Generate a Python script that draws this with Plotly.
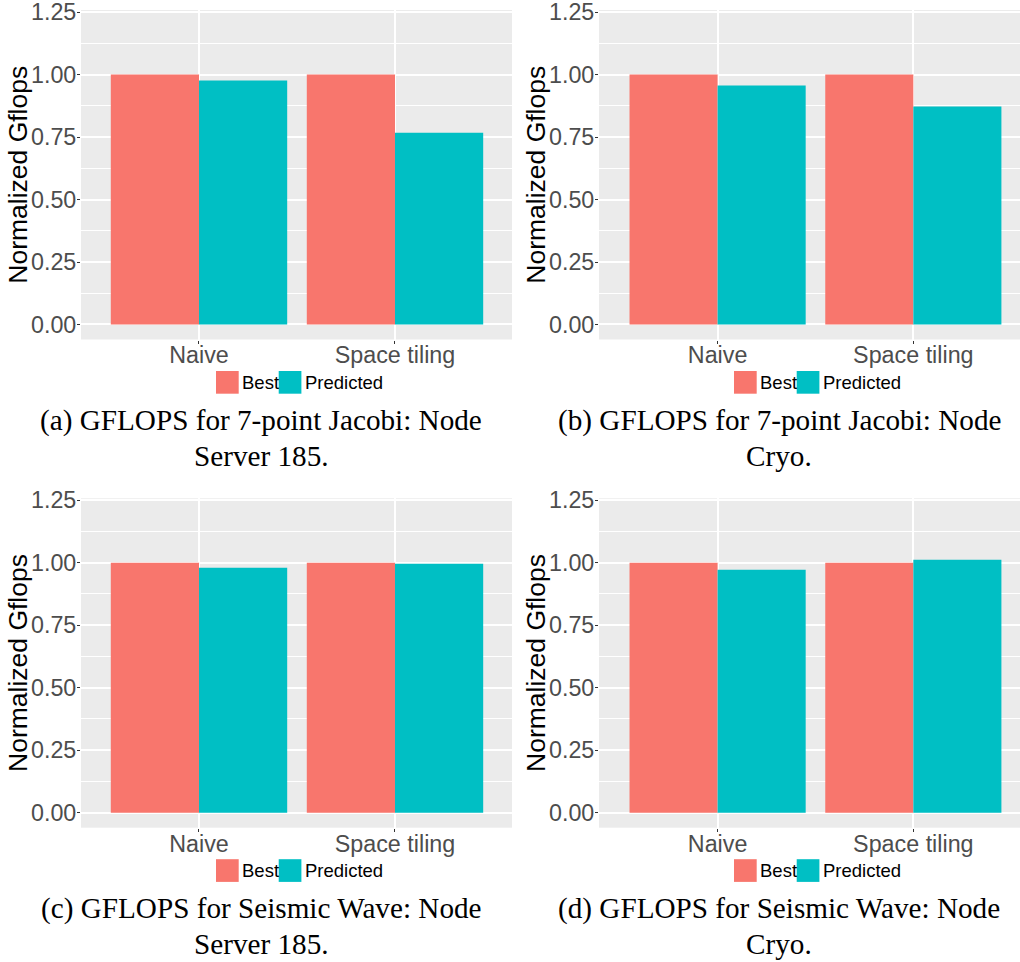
import plotly.graph_objects as go

categories = ["Naive", "Space tiling"]
series_names = ["Best", "Predicted"]
best_a = [1.0, 1.0]
pred_a = [0.976, 0.767]
best_b = [1.0, 1.0]
pred_b = [0.956, 0.872]
best_c = [1.0, 1.0]
pred_c = [0.980, 0.996]
best_d = [1.0, 1.0]
pred_d = [0.972, 1.012]
y_ticks = [0, 0.25, 0.5, 0.75, 1.0, 1.25]
y_title = "Normalized Gflops"
captions = [
    ["(a) GFLOPS for 7-point Jacobi: Node", "Server 185."],
    ["(b) GFLOPS for 7-point Jacobi: Node", "Cryo."],
    ["(c) GFLOPS for Seismic Wave: Node", "Server 185."],
    ["(d) GFLOPS for Seismic Wave: Node", "Cryo."],
]

W, H = 1020, 962
RED, CYAN = "#F8766D", "#00BFC4"
PANEL = "#EBEBEB"
SANS = "Liberation Sans, Arial, sans-serif"
SERIF = "Liberation Serif, Times New Roman, serif"

def px(x):
    return x / W

def py(y):
    return 1 - y / H

# panel geometry (pixels)
panels = [
    dict(x0=81, x1=512, xr=[-0.602, 1.597], yt=10, yb=339.5, yr=[-0.0601, 1.2585]),
    dict(x0=599, x1=1020, xr=[-0.606, 1.545], yt=10, yb=339.5, yr=[-0.0601, 1.2585]),
    dict(x0=81, x1=512, xr=[-0.602, 1.597], yt=498.3, yb=827.7, yr=[-0.0601, 1.2575]),
    dict(x0=599, x1=1020, xr=[-0.606, 1.545], yt=498.3, yb=827.7, yr=[-0.0601, 1.2575]),
]
data = [(best_a, pred_a), (best_b, pred_b), (best_c, pred_c), (best_d, pred_d)]

fig = go.Figure()
layout = dict(
    template="none",
    width=W, height=H, margin=dict(l=0, r=0, t=0, b=0, pad=0, autoexpand=False),
    paper_bgcolor="white", plot_bgcolor=PANEL,
    barmode="group", bargap=0.1, bargroupgap=0,
    showlegend=False, font=dict(family=SANS),
)
annotations = []
shapes = []

for i, (p, (best, pred)) in enumerate(zip(panels, data)):
    n = "" if i == 0 else str(i + 1)
    xa, ya = "x" + n, "y" + n
    fig.add_trace(go.Bar(x=categories, y=best, name=series_names[0], marker_color=RED,
                         marker_line_width=0, xaxis=xa, yaxis=ya))
    fig.add_trace(go.Bar(x=categories, y=pred, name=series_names[1], marker_color=CYAN,
                         marker_line_width=0, xaxis=xa, yaxis=ya))
    layout["xaxis" + n] = dict(
        domain=[px(p["x0"]), px(p["x1"])], range=p["xr"], anchor=ya, automargin=False,
        type="category", showgrid=True, gridcolor="white", gridwidth=1.5,
        zeroline=False, showline=False, ticks="outside", ticklen=3, tickwidth=1,
        tickcolor="#333333", tickfont=dict(size=23.3, color="#4D4D4D", family=SANS),
        ticklabelstandoff=-8, ticklabeloverflow="allow",
    )
    layout["yaxis" + n] = dict(
        domain=[py(p["yb"]), py(p["yt"])], range=p["yr"], anchor=xa, automargin=False,
        tickvals=y_ticks, tickformat=".2f", showgrid=True, gridcolor="white", gridwidth=1.6,
        zeroline=False, showline=False, ticks="outside", ticklen=3, tickwidth=1,
        tickcolor="#333333", tickfont=dict(size=23.3, color="#4D4D4D", family=SANS),
        ticklabelstandoff=-4, ticklabeloverflow="allow",
        minor=dict(dtick=0.125, tick0=0, showgrid=True, gridcolor="white", gridwidth=0.8, ticks=""),
    )
    annotations.append(dict(
        text=y_title, textangle=-90, x=px(p["x0"] - 63), y=py((p["yt"] + p["yb"]) / 2),
        xref="paper", yref="paper", showarrow=False, xanchor="center", yanchor="middle",
        font=dict(size=26.5, color="black", family=SANS),
    ))
    dx = p["x0"] - 81
    sq_top = p["yb"] + 31.5
    sq = 22.7
    for j, (name, col, sx, tx) in enumerate([(series_names[0], RED, 216, 240),
                                              (series_names[1], CYAN, 278.7, 303)]):
        shapes.append(dict(type="rect", xref="paper", yref="paper",
                           x0=px(sx + dx), x1=px(sx + dx + sq),
                           y0=py(sq_top + sq), y1=py(sq_top),
                           fillcolor=col, line=dict(width=0)))
        annotations.append(dict(
            text=name, x=px(tx + dx), y=py(sq_top + sq / 2), xref="paper", yref="paper",
            showarrow=False, xanchor="left", yanchor="middle",
            font=dict(size=18.5, color="black", family=SANS),
        ))
    cx = 261 if i % 2 == 0 else 779
    base = p["yb"] + 81
    for k, line in enumerate(captions[i]):
        annotations.append(dict(
            text=line, x=px(cx), y=py(base + k * 35.3), xref="paper", yref="paper",
            showarrow=False, xanchor="center", yanchor="middle",
            font=dict(size=29.2, color="black", family=SERIF),
        ))

layout["annotations"] = annotations
layout["shapes"] = shapes
fig.update_layout(**layout)
fig.write_html("out.html")
